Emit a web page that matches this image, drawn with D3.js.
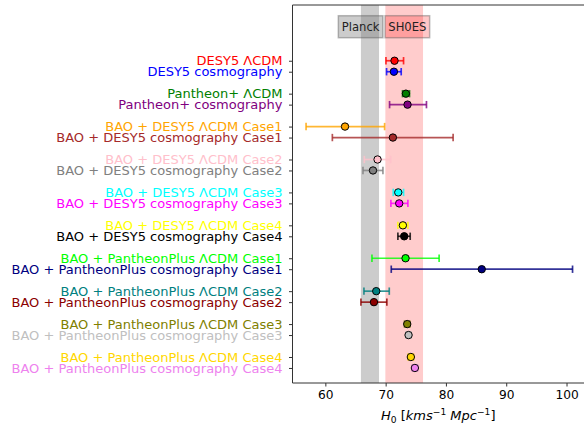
<!DOCTYPE html>
<html>
<head>
<meta charset="utf-8">
<script src="https://cdn.jsdelivr.net/npm/d3@7"></script>
<style>
  body { margin: 0; background: white; }
  text { font-family: "DejaVu Sans", sans-serif; }
</style>
</head>
<body>
<div id="wrapper"></div>
<script>
// data
const labels = [
  "DESY5 ΛCDM", "DESY5 cosmography",
  "Pantheon+ ΛCDM", "Pantheon+ cosmography",
  "BAO + DESY5 ΛCDM Case1", "BAO + DESY5 cosmography Case1",
  "BAO + DESY5 ΛCDM Case2", "BAO + DESY5 cosmography Case2",
  "BAO + DESY5 ΛCDM Case3", "BAO + DESY5 cosmography Case3",
  "BAO + DESY5 ΛCDM Case4", "BAO + DESY5 cosmography Case4",
  "BAO + PantheonPlus ΛCDM Case1", "BAO + PantheonPlus cosmography Case1",
  "BAO + PantheonPlus ΛCDM Case2", "BAO + PantheonPlus cosmography Case2",
  "BAO + PantheonPlus ΛCDM Case3", "BAO + PantheonPlus cosmography Case3",
  "BAO + PantheonPlus ΛCDM Case4", "BAO + PantheonPlus cosmography Case4"
]
const colors = [
  "red", "blue", "green", "purple", "orange", "brown", "pink", "gray",
  "cyan", "magenta", "yellow", "black", "lime", "navy", "teal", "darkred",
  "olive", "silver", "gold", "violet"
]
const h0 =    [71.47, 71.37, 73.36, 73.63, 63.26, 71.2, 68.66, 67.9, 72.09, 72.25, 72.86, 73.08, 73.3, 85.94, 68.44, 68.06, 73.58, 73.8, 74.18, 74.85]
const errLo = [1.42, 1.22, 0.56, 2.98, 6.46, 10.04, 2.2, 1.66, 0.83, 1.38, 0.83, 1.05, 5.57, 15.01, 2.04, 2.16, 0.45, 0.44, 0.44, 0.45]
const errHi = [1.5, 1.21, 0.6, 3.14, 6.57, 9.99, 2.15, 1.65, 0.88, 1.44, 0.83, 0.99, 5.57, 15.06, 2.16, 2.14, 0.44, 0.44, 0.44, 0.44]

const planck = [65.9, 68.9]
const shoes = [69.95, 76.2]
const xTicks = [60, 70, 80, 90, 100]

const rows = labels.map((d, i) => ({
  label: d,
  color: colors[i],
  h0: h0[i],
  lo: h0[i] - errLo[i],
  hi: h0[i] + errHi[i],
  pos: Math.floor(i / 2) * 3 + (i % 2),
}))

const fontSize = 13

const dimensions = {
  width: 584,
  height: 426,
  margin: { top: 5, right: 0, bottom: 43, left: 292.5 },
}
dimensions.boundedWidth = dimensions.width - dimensions.margin.left - dimensions.margin.right
dimensions.boundedHeight = dimensions.height - dimensions.margin.top - dimensions.margin.bottom

const wrapper = d3.select("#wrapper")
  .append("svg")
    .attr("width", dimensions.width)
    .attr("height", dimensions.height)

const bounds = wrapper.append("g")
  .attr("transform", `translate(${dimensions.margin.left}, ${dimensions.margin.top})`)

const xScale = d3.scaleLinear()
  .domain([54.55, 102.9])
  .range([0, dimensions.boundedWidth])

const yScale = d3.scaleLinear()
  .domain([-5.08, 29.37])
  .range([0, dimensions.boundedHeight])

// reference bands
bounds.append("rect")
  .attr("x", xScale(planck[0]))
  .attr("width", xScale(planck[1]) - xScale(planck[0]))
  .attr("y", 0)
  .attr("height", dimensions.boundedHeight)
  .attr("fill", "gray")
  .attr("fill-opacity", 0.4)

bounds.append("rect")
  .attr("x", xScale(shoes[0]))
  .attr("width", xScale(shoes[1]) - xScale(shoes[0]))
  .attr("y", 0)
  .attr("height", dimensions.boundedHeight)
  .attr("fill", "red")
  .attr("fill-opacity", 0.2)

// band labels
const bandLabels = [
  { text: "Planck", x: 65.85, fill: "gray", alpha: 0.4 },
  { text: "SH0ES", x: 73.6, fill: "red", alpha: 0.22 },
]
bandLabels.forEach(b => {
  const g = bounds.append("g")
  const cy = yScale(-3.1)
  g.append("rect")
    .attr("x", xScale(b.x) - 22.3)
    .attr("y", cy - 11)
    .attr("width", 44.6)
    .attr("height", 22)
    .attr("fill", b.fill)
    .attr("fill-opacity", b.alpha)
    .attr("stroke", "#555")
    .attr("stroke-opacity", 0.4)
    .attr("stroke-width", 1.5)
  g.append("text")
    .attr("x", xScale(b.x))
    .attr("y", cy)
    .attr("dy", "0.36em")
    .attr("text-anchor", "middle")
    .attr("font-size", 11.6)
    .attr("fill", "#222")
    .text(b.text)
})

// error bars
const bars = bounds.selectAll(".bar")
  .data(rows)
  .enter().append("g")
    .attr("class", "bar")
    .attr("stroke", d => d.color)
    .attr("stroke-opacity", 0.8)
    .attr("stroke-width", 1.7)

bars.append("line")
  .attr("x1", d => xScale(d.lo))
  .attr("x2", d => xScale(d.hi))
  .attr("y1", d => yScale(d.pos))
  .attr("y2", d => yScale(d.pos))

bars.append("line")
  .attr("x1", d => xScale(d.lo))
  .attr("x2", d => xScale(d.lo))
  .attr("y1", d => yScale(d.pos) - 3.7)
  .attr("y2", d => yScale(d.pos) + 3.7)

bars.append("line")
  .attr("x1", d => xScale(d.hi))
  .attr("x2", d => xScale(d.hi))
  .attr("y1", d => yScale(d.pos) - 3.7)
  .attr("y2", d => yScale(d.pos) + 3.7)

bounds.selectAll(".dot")
  .data(rows)
  .enter().append("circle")
    .attr("class", "dot")
    .attr("cx", d => xScale(d.h0))
    .attr("cy", d => yScale(d.pos))
    .attr("r", 3.7)
    .attr("fill", d => d.color)
    .attr("stroke", "black")
    .attr("stroke-width", 1)

// axes
const xAxisGenerator = d3.axisBottom(xScale)
  .tickValues(xTicks)
  .tickSize(3.5)
  .tickPadding(4)

const xAxis = bounds.append("g")
  .attr("transform", `translate(0, ${dimensions.boundedHeight})`)
  .call(xAxisGenerator)
xAxis.select(".domain").remove()
xAxis.selectAll("text").attr("font-size", 12.2).attr("fill", "black").attr("font-family", "DejaVu Sans")
xAxis.selectAll("line").attr("stroke", "#333")

const yAxisGenerator = d3.axisLeft(yScale)
  .tickValues(rows.map(d => d.pos))
  .tickFormat((d, i) => rows[i].label)
  .tickSize(3.5)
  .tickPadding(6.5)

const yAxis = bounds.append("g").call(yAxisGenerator)
yAxis.select(".domain").remove()
yAxis.selectAll("text")
  .attr("font-size", fontSize)
  .attr("font-family", "DejaVu Sans")
  .attr("fill", (d, i) => rows[i].color)
yAxis.selectAll("line").attr("stroke", "#333")

// frame: left, top, bottom spines
bounds.append("path")
  .attr("d", `M${dimensions.boundedWidth + 2},0 H0 V${dimensions.boundedHeight} H${dimensions.boundedWidth + 2}`)
  .attr("fill", "none")
  .attr("stroke", "#333")
  .attr("stroke-width", 1)

const sub = 9.1
const xLabel = wrapper.append("text")
  .attr("x", dimensions.margin.left + dimensions.boundedWidth / 2)
  .attr("y", 420)
  .attr("text-anchor", "middle")
  .attr("font-size", fontSize)
  .attr("font-style", "italic")
xLabel.append("tspan").text("H")
xLabel.append("tspan").attr("font-size", sub).attr("dy", 2.8).attr("font-style", "normal").text("0")
xLabel.append("tspan").attr("dy", -2.8).attr("font-style", "normal").text(" [")
xLabel.append("tspan").text("kms")
xLabel.append("tspan").attr("font-size", sub).attr("dy", -5).attr("font-style", "normal").text("−1")
xLabel.append("tspan").attr("dy", 5).text(" Mpc")
xLabel.append("tspan").attr("font-size", sub).attr("dy", -5).attr("font-style", "normal").text("−1")
xLabel.append("tspan").attr("dy", 5).attr("font-style", "normal").text("]")
</script>
</body>
</html>
